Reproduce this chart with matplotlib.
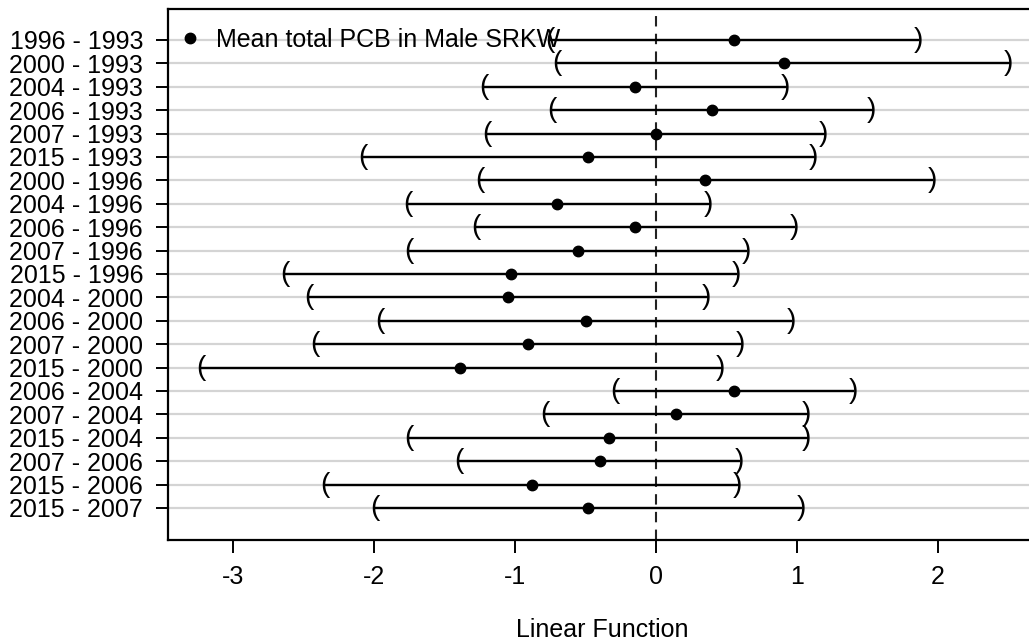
import matplotlib
matplotlib.use('Agg')
import matplotlib.pyplot as plt

# comparisons (top to bottom) with estimate and confidence bounds
labels = ['1996 - 1993', '2000 - 1993', '2004 - 1993', '2006 - 1993', '2007 - 1993',
          '2015 - 1993', '2000 - 1996', '2004 - 1996', '2006 - 1996', '2007 - 1996',
          '2015 - 1996', '2004 - 2000', '2006 - 2000', '2007 - 2000', '2015 - 2000',
          '2006 - 2004', '2007 - 2004', '2015 - 2004', '2007 - 2006', '2015 - 2006',
          '2015 - 2007']
estimate = [0.55, 0.91, -0.15, 0.40, 0.00, -0.48, 0.35, -0.70, -0.15, -0.55,
            -1.03, -1.05, -0.50, -0.91, -1.39, 0.55, 0.14, -0.33, -0.40, -0.88,
            -0.48]
lower = [-0.75, -0.70, -1.22, -0.74, -1.20, -2.08, -1.25, -1.76, -1.28, -1.75,
         -2.63, -2.46, -1.96, -2.42, -3.23, -0.29, -0.79, -1.75, -1.40, -2.35,
         -1.99]
upper = [1.86, 2.50, 0.92, 1.53, 1.19, 1.12, 1.96, 0.375, 0.98, 0.64,
         0.57, 0.36, 0.96, 0.60, 0.46, 1.40, 1.07, 1.07, 0.59, 0.58,
         1.03]

plt.rcParams['font.family'] = ['Liberation Sans', 'DejaVu Sans']

fig = plt.figure(figsize=(10.29, 6.44), dpi=100)
ax = fig.add_axes([168 / 1029, 1 - 540 / 644, (1037 - 168) / 1029, (540 - 8.5) / 644])

n = len(labels)
ypos = list(range(n, 0, -1))

for y in ypos:
    ax.axhline(y, color='#d4d4d4', lw=1.6, zorder=0)

ax.axvline(0, color='#222222', lw=1.5, ls=(0, (5, 3.5)), zorder=1)

for y, lo, hi in zip(ypos, lower, upper):
    ax.plot([lo, hi], [y, y], color='black', lw=1.7, zorder=2)
    ax.text(lo, y, '(', ha='center', va='center', fontsize=20, zorder=3)
    ax.text(hi, y, ')', ha='center', va='center', fontsize=20, zorder=3)

ax.plot(estimate, ypos, 'o', color='black', ms=7.5, ls='none', zorder=4,
        label='Mean total PCB in Male SRKW')

ax.set_xlim(-3.461, 2.702)
ax.set_ylim(-0.368, 22.346)
ax.set_yticks(ypos)
ax.set_yticklabels(labels)
ax.set_xticks([-3, -2, -1, 0, 1, 2])
ax.set_xticklabels(['-3', '-2', '-1', '0', '1', '2'])
ax.tick_params(axis='both', labelsize=18, width=1.4, length=9, pad=9, color='black')
ax.set_xlabel('Linear Function', fontsize=18, labelpad=21)

for side in ['left', 'bottom', 'top']:
    ax.spines[side].set_linewidth(1.6)
ax.spines['right'].set_visible(False)

ax.legend(loc='center left', bbox_to_anchor=(177.5 / 1029, 1 - 40 / 644),
          bbox_transform=fig.transFigure, frameon=False, fontsize=18,
          handlelength=1, handletextpad=0.54, borderpad=0, borderaxespad=0,
          numpoints=1)

fig.savefig('out.png', dpi=100)
